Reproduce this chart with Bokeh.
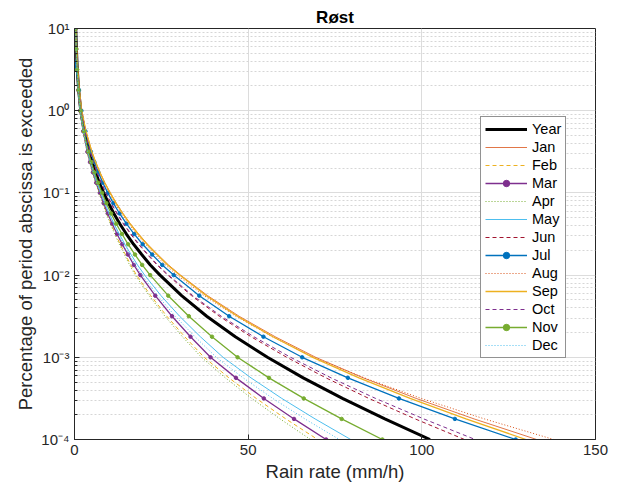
from bokeh.plotting import figure
from bokeh.models import FixedTicker, CustomJSTickFormatter
from bokeh.embed import file_html
from bokeh.resources import INLINE

PROB = [10, 5.62, 3.16, 1.78, 1.0, 0.562, 0.316, 0.237, 0.178, 0.133, 0.1, 0.075, 0.0562,
        0.0422, 0.0316, 0.0237, 0.0178, 0.0133, 0.01, 0.00562, 0.00316, 0.00178, 0.001,
        0.000562, 0.000316, 0.000178, 0.0001]
JUL_PROB = [3.9, 3.16, 1.78, 1.0, 0.562, 0.316, 0.237, 0.178, 0.133, 0.1, 0.075, 0.0562,
            0.0422, 0.0316, 0.0237, 0.0178, 0.0133, 0.01, 0.00562, 0.00316, 0.00178, 0.001,
            0.000562, 0.000316, 0.000178, 0.0001]

YEAR = [0.35, 0.55, 0.8, 1.2, 1.8, 2.82, 4.22, 5.08, 6.06, 7.16, 8.40, 9.78, 11.33, 13.03, 14.95, 17.02, 19.35, 21.83, 24.62, 30.84, 38.06, 46.30, 55.55, 65.85, 77.15, 89.35, 102.35]
JAN = [0.40, 0.63, 0.92, 1.38, 2.07, 3.30, 5.02, 6.10, 7.33, 8.74, 10.33, 12.04, 13.96, 16.08, 18.46, 21.04, 23.95, 27.04, 30.53, 38.32, 47.38, 57.76, 69.44, 83.14, 98.37, 115.04, 133.06]
FEB = [0.31, 0.48, 0.70, 1.06, 1.58, 2.46, 3.66, 4.39, 5.22, 6.14, 7.18, 8.20, 9.32, 10.51, 11.81, 13.17, 14.66, 16.18, 17.85, 21.95, 26.59, 31.73, 37.33, 44.45, 52.31, 60.85, 70.01]
MAR = [0.31, 0.49, 0.71, 1.07, 1.60, 2.50, 3.71, 4.46, 5.30, 6.25, 7.31, 8.39, 9.57, 10.85, 12.26, 13.74, 15.38, 17.08, 18.96, 23.25, 28.07, 33.40, 39.16, 46.48, 54.51, 63.20, 72.46]
APR = [0.30, 0.48, 0.70, 1.04, 1.57, 2.43, 3.61, 4.32, 5.14, 6.04, 7.06, 8.06, 9.15, 10.31, 11.59, 12.91, 14.37, 15.86, 17.48, 21.50, 26.03, 31.07, 36.55, 43.43, 51.00, 59.19, 67.96]
MAY = [0.32, 0.51, 0.74, 1.10, 1.66, 2.58, 3.85, 4.63, 5.51, 6.49, 7.60, 8.75, 10.01, 11.38, 12.89, 14.50, 16.28, 18.13, 20.19, 24.90, 30.26, 36.23, 42.77, 50.82, 59.68, 69.27, 79.53]
JUN = [0.37, 0.58, 0.84, 1.26, 1.89, 2.98, 4.47, 5.40, 6.45, 7.64, 8.99, 10.49, 12.18, 14.04, 16.15, 18.42, 20.99, 23.74, 26.84, 33.69, 41.68, 50.81, 61.11, 72.39, 84.75, 98.09, 112.28]
JUL = [0.0, 0.5, 1.3, 1.98, 3.13, 4.73, 5.72, 6.85, 8.13, 9.58, 11.17, 12.97, 14.95, 17.19, 19.62, 22.35, 25.27, 28.56, 35.93, 44.53, 54.40, 65.55, 78.71, 93.39, 109.52, 127.02]
AUG = [0.40, 0.62, 0.90, 1.36, 2.03, 3.23, 4.90, 5.93, 7.12, 8.47, 10.00, 11.65, 13.51, 15.56, 17.87, 20.36, 23.17, 26.17, 29.54, 37.32, 46.43, 56.95, 68.88, 83.43, 99.83, 118.03, 137.97]
SEP = [0.40, 0.63, 0.92, 1.38, 2.07, 3.29, 5.00, 6.06, 7.29, 8.67, 10.25, 11.94, 13.85, 15.95, 18.31, 20.87, 23.75, 26.82, 30.28, 37.97, 46.91, 57.12, 68.60, 81.90, 96.63, 112.70, 129.98]
OCT = [0.37, 0.58, 0.85, 1.27, 1.91, 3.00, 4.52, 5.45, 6.51, 7.71, 9.07, 10.59, 12.29, 14.17, 16.30, 18.59, 21.19, 23.96, 27.08, 34.08, 42.25, 51.62, 62.22, 73.87, 86.68, 100.55, 115.35]
NOV = [0.33, 0.52, 0.76, 1.14, 1.71, 2.68, 4.00, 4.81, 5.73, 6.77, 7.94, 9.17, 10.54, 12.02, 13.68, 15.45, 17.42, 19.48, 21.79, 26.99, 32.92, 39.59, 46.94, 55.99, 66.00, 76.91, 88.64]
DEC = [0.32, 0.50, 0.73, 1.09, 1.64, 2.55, 3.80, 4.56, 5.42, 6.39, 7.48, 8.58, 9.80, 11.11, 12.56, 14.08, 15.77, 17.52, 19.45, 23.94, 29.02, 34.67, 40.83, 48.56, 57.09, 66.34, 76.25]

X_TICKS = [0, 50, 100, 150]
Y_TICKS = [1e-4, 1e-3, 1e-2, 1e-1, 1, 10]
Y_MINOR = [m * d for d in [1e-4, 1e-3, 1e-2, 1e-1, 1] for m in range(2, 10)]

FONT = "Liberation Sans"
TXT = "#262626"

p = figure(width=624, height=493, y_axis_type="log", x_range=(0, 150), y_range=(1e-4, 10),
           output_backend="svg", toolbar_location=None,
           min_border_left=74, min_border_right=29, min_border_top=28, min_border_bottom=54)

p.title.text = "Røst"
p.title.align = "center"
p.title.text_font = FONT
p.title.text_font_size = "17px"
p.title.text_font_style = "bold"
p.title.text_color = "#000000"
p.title.standoff = 3

p.outline_line_color = TXT
p.outline_line_width = 1
p.background_fill_color = "white"
p.border_fill_color = "white"

# axes
p.xaxis.ticker = FixedTicker(ticks=X_TICKS)
p.yaxis.ticker = FixedTicker(ticks=Y_TICKS, minor_ticks=Y_MINOR)
p.yaxis.formatter = CustomJSTickFormatter(code="""
const e = Math.round(Math.log10(tick));
const sup = {'-': '\u207b', '0': '\u2070', '1': '\u00b9', '2': '\u00b2', '3': '\u00b3', '4': '\u2074'};
return '10' + String(e).split('').map(c => sup[c]).join('');
""")
for ax in (p.xaxis, p.yaxis):
    ax.axis_line_color = TXT
    ax.major_tick_in = 5
    ax.major_tick_out = 0
    ax.major_tick_line_color = TXT
    ax.major_label_text_font = FONT
    ax.major_label_text_font_size = "15px"
    ax.major_label_text_color = TXT
    ax.axis_label_text_font = FONT
    ax.axis_label_text_font_size = "18.5px"
    ax.axis_label_text_font_style = "normal"
    ax.axis_label_text_color = TXT
p.xaxis.minor_tick_line_color = None
p.yaxis.minor_tick_in = 3
p.yaxis.minor_tick_out = 0
p.yaxis.minor_tick_line_color = TXT
p.xaxis.axis_label = "Rain rate (mm/h)"
p.yaxis.axis_label = "Percentage of period abscissa is exceeded"
p.xaxis.axis_label_standoff = 3
p.yaxis.axis_label_standoff = 2

p.xgrid.grid_line_color = "#dcdcdc"
p.ygrid.grid_line_color = "#dcdcdc"
p.ygrid.minor_grid_line_color = "#d6d6d6"
p.ygrid.minor_grid_line_dash = "2 2"

# series
p.line(YEAR, PROB, line_color="black", line_width=3, legend_label="Year")
p.line(JAN, PROB, line_color="#D95319", line_width=0.8, legend_label="Jan")
p.line(FEB, PROB, line_color="#EDB120", line_width=1, line_dash="4 3", legend_label="Feb")
p.line(MAR, PROB, line_color="#7E2F8E", line_width=1.3, legend_label="Mar")
p.scatter(MAR, PROB, size=3.5, fill_color="#7E2F8E", line_color="#7E2F8E", legend_label="Mar")
p.line(APR, PROB, line_color="#77AC30", line_width=1, line_dash="1 2", legend_label="Apr")
p.line(MAY, PROB, line_color="#4DBEEE", line_width=1, legend_label="May")
p.line(JUN, PROB, line_color="#A2142F", line_width=1, line_dash="4 3", legend_label="Jun")
p.line(JUL, JUL_PROB, line_color="#0072BD", line_width=1.3, legend_label="Jul")
p.scatter(JUL, JUL_PROB, size=3.5, fill_color="#0072BD", line_color="#0072BD", legend_label="Jul")
p.line(AUG, PROB, line_color="#D95319", line_width=1, line_dash="1 2", legend_label="Aug")
p.line(SEP, PROB, line_color="#EDB120", line_width=1.3, legend_label="Sep")
p.line(OCT, PROB, line_color="#7E2F8E", line_width=1, line_dash="4 3", legend_label="Oct")
p.line(NOV, PROB, line_color="#77AC30", line_width=1.3, legend_label="Nov")
p.scatter(NOV, PROB, size=3.5, fill_color="#77AC30", line_color="#77AC30", legend_label="Nov")
p.line(DEC, PROB, line_color="#4DBEEE", line_width=1, line_dash="1 2", legend_label="Dec")

lg = p.legend[0]
lg.location = (406, 81)
lg.label_text_font = FONT
lg.label_text_font_size = "14.5px"
lg.label_text_color = "#000000"
lg.label_height = 16
lg.glyph_height = 16
lg.glyph_width = 42
lg.spacing = 2
lg.padding = 4
lg.margin = 0
lg.label_standoff = 5
lg.border_line_color = TXT
lg.border_line_width = 1
lg.background_fill_alpha = 1

open("out.html", "w").write(file_html(p, INLINE))
